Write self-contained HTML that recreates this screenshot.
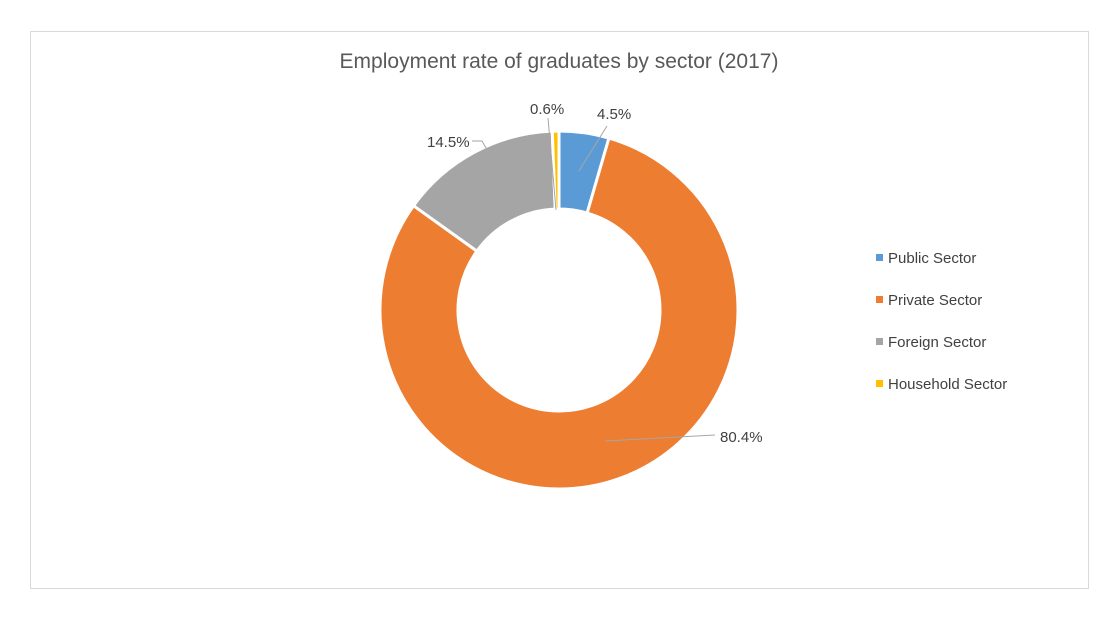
<!DOCTYPE html>
<html><head><meta charset="utf-8"><style>
body{margin:0;background:#fff;font-family:"Liberation Sans",sans-serif}
</style></head><body>
<svg width="1099" height="618" xmlns="http://www.w3.org/2000/svg">
<rect x="30.5" y="31.5" width="1058" height="557" fill="#fff" stroke="#d9d9d9"/>
<text x="559" y="68" text-anchor="middle" font-size="21" fill="#595959">Employment rate of graduates by sector (2017)</text>
<g id="slices"></g>
<g id="labels" font-size="15" fill="#404040"></g>
<g id="legend" font-size="15" fill="#404040"></g>
</svg>
<script>
const categories=["Public Sector","Private Sector","Foreign Sector","Household Sector"];
const values=[4.5,80.4,14.5,0.6];
const labels=["4.5%","80.4%","14.5%","0.6%"];
const colors=["#5b9bd5","#ed7d31","#a5a5a5","#ffc000"];
const NS="http://www.w3.org/2000/svg";
const cx=559,cy=310,R=179,r=101;
const total=values.reduce((a,b)=>a+b,0);
const sl=document.getElementById('slices'),lb=document.getElementById('labels'),lg=document.getElementById('legend');
function pt(a,rad){return [cx+rad*Math.sin(a),cy-rad*Math.cos(a)];}
const labelPos=[[597,119,'start'],[720,442,'start'],[427,147,'start'],[530,114,'start']];
let a0=0;
values.forEach((v,i)=>{
  const a1=a0+v/total*2*Math.PI;
  const [x0,y0]=pt(a0,R),[x1,y1]=pt(a1,R),[x2,y2]=pt(a1,r),[x3,y3]=pt(a0,r);
  const lg1=(a1-a0)>Math.PI?1:0;
  const p=document.createElementNS(NS,'path');
  p.setAttribute('d',`M${x0},${y0}A${R},${R} 0 ${lg1} 1 ${x1},${y1}L${x2},${y2}A${r},${r} 0 ${lg1} 0 ${x3},${y3}Z`);
  p.setAttribute('fill',colors[i]);p.setAttribute('stroke','#fff');p.setAttribute('stroke-width','3');
  
  
  sl.appendChild(p);
  const am=(a0+a1)/2;const [mx,my]=pt(am,(R+r)/2);
  const [lx,ly,anc]=labelPos[i];
  const ln=document.createElementNS(NS,'polyline');
  if(i==0) ln.setAttribute('points',`607,126 ${mx},${my}`);
  else if(i==1) ln.setAttribute('points',`715,435 605,441`);
  else if(i==2) ln.setAttribute('points',`${lx+45},${ly-6} ${lx+55},${ly-6} ${lx+50+12},${ly+6}`);
  else ln.setAttribute('points',`548,118 ${cx-3},${cy-100}`);
  ln.setAttribute('stroke','#a6a6a6');ln.setAttribute('fill','none');
  
  
  lb.appendChild(ln);
  const t=document.createElementNS(NS,'text');
  t.setAttribute('x',lx);t.setAttribute('y',ly);t.setAttribute('text-anchor',anc);
  t.textContent=labels[i];
  
  
  lb.appendChild(t);
  const ry=258+i*42;
  const sq=document.createElementNS(NS,'rect');
  sq.setAttribute('x',876);sq.setAttribute('y',ry-4);sq.setAttribute('width',7);sq.setAttribute('height',7);sq.setAttribute('fill',colors[i]);
  
  
  lg.appendChild(sq);
  const lt=document.createElementNS(NS,'text');
  lt.setAttribute('x',888);lt.setAttribute('y',ry+5);lt.textContent=categories[i];
  
  
  lg.appendChild(lt);
  a0=a1;
});
</script>
</body></html>
